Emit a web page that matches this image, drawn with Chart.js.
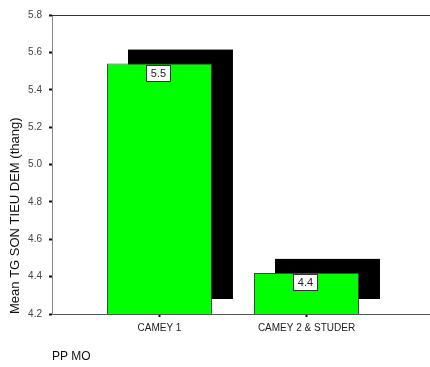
<!DOCTYPE html>
<html>
<head>
<meta charset="utf-8">
<script src="https://cdn.jsdelivr.net/npm/chart.js@4/dist/chart.umd.min.js"></script>
<style>
  html, body { margin: 0; padding: 0; background: #fff; }
  canvas { display: block; }
</style>
</head>
<body>
<canvas id="chart" width="430" height="367"></canvas>
<script>
// Mean time by method
const categories = ['CAMEY 1', 'CAMEY 2 & STUDER'];
const meanValues = [5.54, 4.42];
const yTicks = [4.2, 4.4, 4.6, 4.8, 5.0, 5.2, 5.4, 5.6, 5.8];

const FONT = 'Arial, "Liberation Sans", sans-serif';

// Black depth block behind each bar (3D look)
const depthPlugin = {
  id: 'depth',
  beforeDatasetsDraw(chart) {
    const ctx = chart.ctx;
    const meta = chart.getDatasetMeta(0);
    const floor = chart.chartArea.bottom;
    const dx = 21, dy = 14;
    ctx.save();
    ctx.fillStyle = '#000';
    meta.data.forEach(bar => {
      const w = bar.width;
      const left = bar.x - w / 2 + dx;
      const top = bar.y - dy;
      const bottom = floor - dy - 1;
      ctx.fillRect(left, top, w, bottom - top);
    });
    ctx.restore();
  }
};

// Boxed value labels just under each bar top
const valueBoxPlugin = {
  id: 'valueBox',
  afterDatasetsDraw(chart) {
    const ctx = chart.ctx;
    const meta = chart.getDatasetMeta(0);
    const data = chart.data.datasets[0].data;
    ctx.save();
    ctx.font = '11px ' + FONT;
    ctx.textAlign = 'center';
    ctx.textBaseline = 'middle';
    meta.data.forEach((bar, i) => {
      const txt = data[i].y.toFixed(1);
      const tw = ctx.measureText(txt).width;
      const bw = Math.round(tw + 9), bh = 16;
      const bx = Math.round(bar.x - bw / 2 - 1) + 0.5;
      const by = Math.round(bar.y + 1) + 0.5;
      ctx.fillStyle = '#fff';
      ctx.fillRect(bx, by, bw, bh);
      ctx.strokeStyle = '#333';
      ctx.lineWidth = 1;
      ctx.strokeRect(bx, by, bw, bh);
      ctx.fillStyle = '#222';
      ctx.fillText(txt, bx + bw / 2, by + bh / 2 + 0.5);
    });
    ctx.restore();
  }
};

// Line along the top of the plot area
const topLinePlugin = {
  id: 'topLine',
  afterDraw(chart) {
    const { ctx, chartArea } = chart;
    ctx.save();
    ctx.strokeStyle = '#333';
    ctx.lineWidth = 1;
    ctx.beginPath();
    ctx.moveTo(chartArea.left, Math.round(chartArea.top) + 0.5);
    ctx.lineTo(chartArea.right, Math.round(chartArea.top) + 0.5);
    ctx.stroke();
    ctx.restore();
  }
};

new Chart(document.getElementById('chart'), {
  type: 'bar',
  data: {
    datasets: [{
      data: categories.map((c, i) => ({ x: i, y: meanValues[i] })),
      backgroundColor: '#00ff00',
      borderColor: '#444',
      borderWidth: 1,
      borderSkipped: 'bottom',
      categoryPercentage: 1,
      barPercentage: 0.714
    }]
  },
  options: {
    responsive: false,
    animation: false,
    devicePixelRatio: 1,
    layout: { padding: { top: 15, right: 0, bottom: 0, left: 0 } },
    plugins: {
      legend: { display: false },
      tooltip: { enabled: false }
    },
    scales: {
      x: {
        type: 'linear',
        offset: false,
        min: -0.731,
        max: 1.84,
        afterBuildTicks(scale) {
          scale.ticks = categories.map((c, i) => ({ value: i }));
        },
        afterFit(scale) {
          scale.height = 53;
          scale.paddingLeft = 0;
          scale.paddingRight = 0;
        },
        ticks: {
          callback: v => categories[v] ?? '',
          color: '#222',
          font: { family: FONT, size: 10 },
          padding: 5,
          maxRotation: 0,
          autoSkip: false
        },
        grid: {
          offset: false,
          drawOnChartArea: false,
          drawTicks: true,
          tickLength: 3,
          tickWidth: 2,
          tickColor: '#111'
        },
        border: { color: '#555', width: 1 },
        title: {
          display: true,
          text: 'PP MO',
          align: 'start',
          color: '#111',
          font: { family: FONT, size: 12 },
          padding: { top: 0, bottom: 3 }
        }
      },
      y: {
        min: 4.2,
        max: 5.8,
        afterBuildTicks(scale) {
          scale.ticks = yTicks.map(v => ({ value: v }));
        },
        afterFit(scale) {
          scale.width = 52;
          scale.paddingTop = 0;
          scale.paddingBottom = 0;
        },
        ticks: {
          callback: v => Number(v).toFixed(1),
          color: '#444',
          font: { family: FONT, size: 10 },
          padding: 7
        },
        grid: {
          drawOnChartArea: false,
          drawTicks: true,
          tickLength: 3,
          tickWidth: 2,
          tickColor: '#111'
        },
        border: { color: '#888', width: 1 },
        title: {
          display: true,
          text: 'Mean TG SON TIEU DEM (thang)',
          align: 'start',
          color: '#111',
          font: { family: FONT, size: 13 },
          padding: { top: 8, bottom: 0 }
        }
      }
    }
  },
  plugins: [depthPlugin, valueBoxPlugin, topLinePlugin]
});
</script>
</body>
</html>
